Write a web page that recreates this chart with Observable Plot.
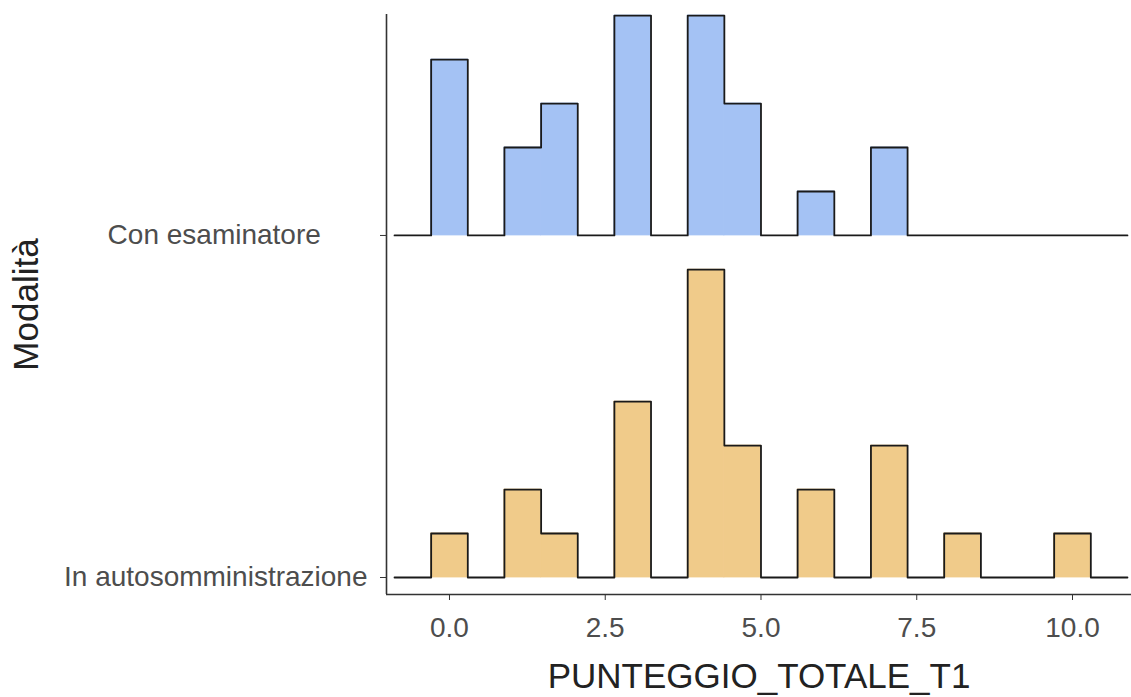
<!DOCTYPE html>
<html>
<head>
<meta charset="utf-8">
<script src="https://cdn.jsdelivr.net/npm/d3@7"></script>
<script src="https://cdn.jsdelivr.net/npm/@observablehq/plot@0.6"></script>
<style>
  html, body { margin: 0; padding: 0; background: #fff; }
  #chart svg { display: block; font-family: "Liberation Sans", Arial, sans-serif; }
</style>
</head>
<body>
<div id="chart"></div>
<script>
// ---- data ----
const categories = ["In autosomministrazione", "Con esaminatore"]; // bottom -> top
const fills = ["#f0cb8a", "#a4c2f4"];
const binWidth = 10 / 17;
const binCenters = [0, 0.588, 1.176, 1.765, 2.353, 2.941, 3.529, 4.118, 4.706, 5.294, 5.882, 6.471, 7.059, 7.647, 8.235, 8.824, 9.412, 10];
const countsAuto      = [1, 0, 2, 1, 0, 4, 0, 7, 3, 0, 2, 0, 3, 0, 1, 0, 0, 1];
const countsEsaminatore = [4, 0, 2, 3, 0, 5, 0, 5, 3, 0, 1, 0, 2, 0, 0, 0, 0, 0];
const xTicks = [0, 2.5, 5, 7.5, 10];
const xTitle = "PUNTEGGIO_TOTALE_T1";
const yTitle = "Modalità";

// ---- derived tables ----
const seriesCounts = [countsAuto, countsEsaminatore];
const ridgeScale = 0.9 / 7; // height of one count relative to ridge spacing
const rects = [];
const outline = [];
seriesCounts.forEach((counts, g) => {
  counts.forEach((c, i) => {
    if (c > 0) rects.push({g, x1: binCenters[i] - binWidth / 2, x2: binCenters[i] + binWidth / 2, y1: g, y2: g + c * ridgeScale});
  });
  // padded step outline
  outline.push({g, x: binCenters[0] - 1.5 * binWidth, y: g});
  counts.forEach((c, i) => outline.push({g, x: binCenters[i] - binWidth / 2, y: g + c * ridgeScale}));
  outline.push({g, x: binCenters[binCenters.length - 1] + binWidth / 2, y: g});
  outline.push({g, x: binCenters[binCenters.length - 1] + 1.5 * binWidth, y: g});
});

const xDomain = [-1.011, 10.947];
const yDomain = [-0.0497, 1.646];

const chart = Plot.plot({
  width: 1131,
  height: 697,
  marginLeft: 386,
  marginRight: 0,
  marginTop: 14,
  marginBottom: 103,
  x: {domain: xDomain},
  y: {domain: yDomain},
  marks: [
    Plot.rect(rects, {x1: "x1", x2: "x2", y1: "y1", y2: "y2", fill: d => fills[d.g], stroke: d => fills[d.g], strokeWidth: 0.8}),
    Plot.line(outline, {x: "x", y: "y", z: "g", curve: "step-after", stroke: "#1a1a1a", strokeWidth: 1.8}),
    Plot.ruleX([xDomain[0]], {stroke: "#333", strokeWidth: 1.6}),
    Plot.ruleY([yDomain[0]], {stroke: "#333", strokeWidth: 1.6}),
    Plot.axisX({ticks: xTicks, tickFormat: d => d.toFixed(1), tickSize: 6, tickPadding: 17, fontSize: 28, fill: "#4d4d4d", stroke: "#333", label: null}),
    Plot.axisY({ticks: [0, 1], tickFormat: i => i === 1 ? categories[i] + "\u00A0\u00A0\u00A0\u00A0\u00A0\u00A0" : categories[i], tickSize: 6, tickPadding: 13, fontSize: 28, fill: "#4d4d4d", stroke: "#333", label: null}),
    Plot.text([xTitle], {frameAnchor: "bottom", dy: 82, lineAnchor: "middle", fontSize: 35, fill: "#222"}),
    Plot.text([yTitle], {frameAnchor: "left", dx: -360, rotate: -90, textAnchor: "middle", lineAnchor: "middle", fontSize: 35, fill: "#222"})
  ]
});
document.getElementById("chart").append(chart);
</script>
</body>
</html>
